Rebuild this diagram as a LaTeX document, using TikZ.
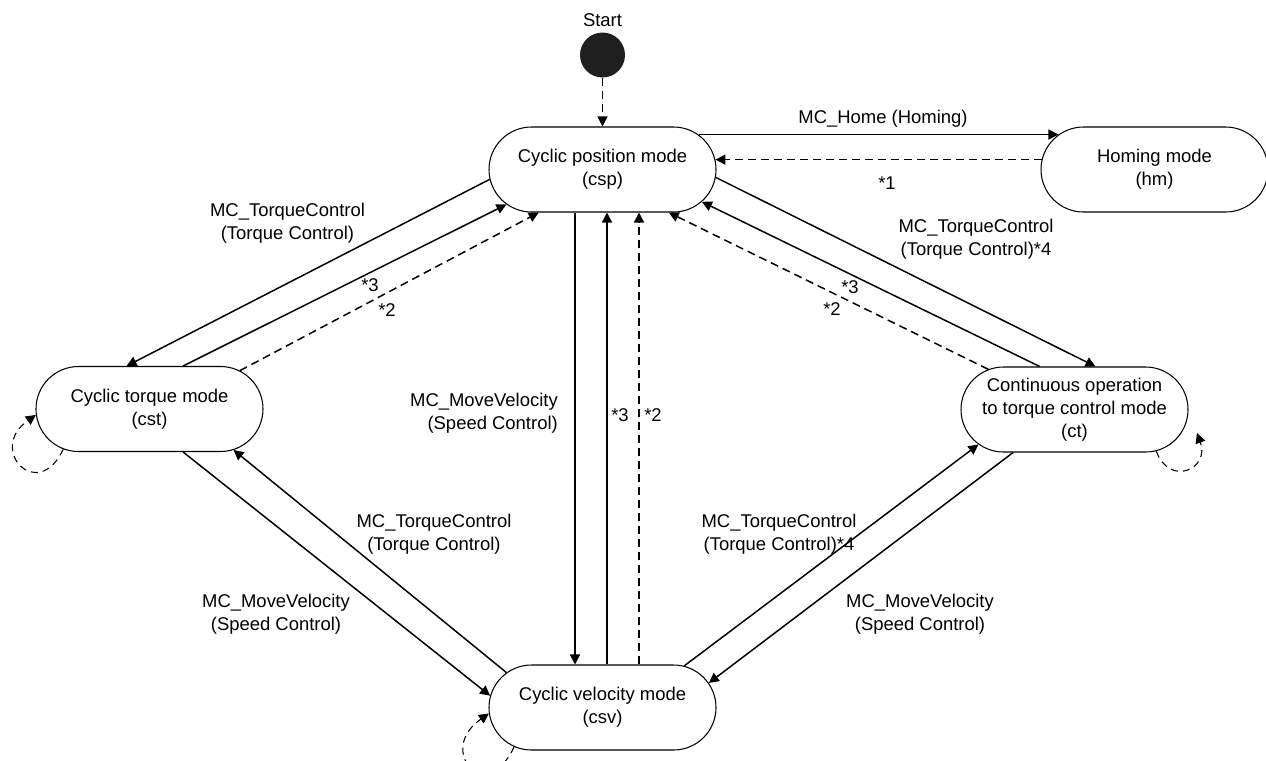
\documentclass[tikz,border=0pt]{standalone}
\usepackage{fontspec}
\setmainfont{Liberation Sans}
\usetikzlibrary{arrows.meta,shapes.misc}

\begin{document}
\begin{tikzpicture}[
		font=\fontsize{10.5pt}{13.1pt}\selectfont,
		mode/.style={draw, rounded rectangle, minimum width=4.54cm, minimum height=1.7cm, inner sep=0pt, align=center, line width=0.6pt},
		trans/.style={line width=0.85pt, -{Triangle[length=0.2cm,width=0.2cm]}},
		back/.style={trans, dash pattern=on 0.16cm off 0.1cm},
		self/.style={line width=0.6pt, dash pattern=on 0.14cm off 0.1cm, -{Triangle[length=0.2cm,width=0.2cm]}}
	]
			\useasboundingbox (0,0) rectangle (25.32,-15.2);
			% states
			\node[circle, fill=black!88, minimum size=0.9cm, inner sep=0pt] (start) at (12.05,-1.1) {};
			\node (starttxt) at (12.05,-0.4) {Start};
			\node[mode] (csp) at (12.05,-3.39) {Cyclic position mode\\(csp)};
			\node[mode] (hm) at (23.09,-3.39) {Homing mode\\(hm)};
			\node[mode] (cst) at (2.99,-8.18) {Cyclic torque mode\\(cst)};
			\node[mode] (ct) at (21.49,-8.19) {Continuous operation\\to torque control mode\\(ct)};
			\node[mode] (csv) at (12.05,-14.15) {Cyclic velocity mode\\(csv)};
			\coordinate (ctloop) at (23.94,-8.66);
			% transitions
			\draw[back] (start) -- (csp.north);
			\draw[trans] (csp.20) -- (hm.160);
			\draw[back] (hm.175) -- (csp.5);
			\draw[trans] (csp.185) -- (cst.118);
			\draw[trans] (cst.52) -- (csp.200);
			\draw[back] (cst.23) -- (csp.214);
			\draw[trans] (csp.356) -- (ct.64);
			\draw[trans] (ct.129) -- (csp.342);
			\draw[back] (ct.155) -- (csp.327);
			\draw[trans] ([xshift=-0.55cm]csp.south) -- ([xshift=-0.55cm]csv.north);
			\draw[trans] ([xshift=0.09cm]csv.north) -- ([xshift=0.09cm]csp.south);
			\draw[back] ([xshift=0.73cm]csv.north) -- ([xshift=0.73cm]csp.south);
			\draw[trans] (cst.308) -- (csv.174);
			\draw[trans] (csv.160) -- (cst.334);
			\draw[trans] (csv.27) -- (ct.200);
			\draw[trans] (ct.215) -- (csv.13);
			\draw[self] (cst.205) to[out=245, in=215, looseness=3.5] (cst.183);
			\draw[self] (csv.204) to[out=245, in=215, looseness=4] (csv.183);
			\draw[self] (ct.333) to[out=290, in=290, looseness=2.2] (ctloop);
			% labels
			\node (lhome) at (17.66,-2.38) {MC\_Home (Homing)};
			\node (lhm) at (17.74,-3.66) {*1};
			\node[align=center] (lcst) at (5.75,-4.46) {MC\_TorqueControl\\(Torque Control)};
			\node (lcst3) at (7.4,-5.7) {*3};
			\node (lcst2) at (7.74,-6.2) {*2};
			\node[align=center] (lct) at (19.52,-4.78) {MC\_TorqueControl\\(Torque Control)*4};
			\node (lct3) at (17.0,-5.74) {*3};
			\node (lct2) at (16.64,-6.18) {*2};
			\node[align=right, anchor=east] (lcsv) at (11.28,-8.26) {MC\_MoveVelocity\\(Speed Control)};
			\node (lcsv3) at (12.4,-8.3) {*3};
			\node (lcsv2) at (13.06,-8.3) {*2};
			\node[align=center] (lvt) at (8.68,-10.68) {MC\_TorqueControl\\(Torque Control)};
			\node[align=center] (lvct) at (15.58,-10.68) {MC\_TorqueControl\\(Torque Control)*4};
			\node[align=center] (ltv) at (5.52,-12.28) {MC\_MoveVelocity\\(Speed Control)};
			\node[align=center] (lctv) at (18.4,-12.28) {MC\_MoveVelocity\\(Speed Control)};
		\end{tikzpicture}
\end{document}
